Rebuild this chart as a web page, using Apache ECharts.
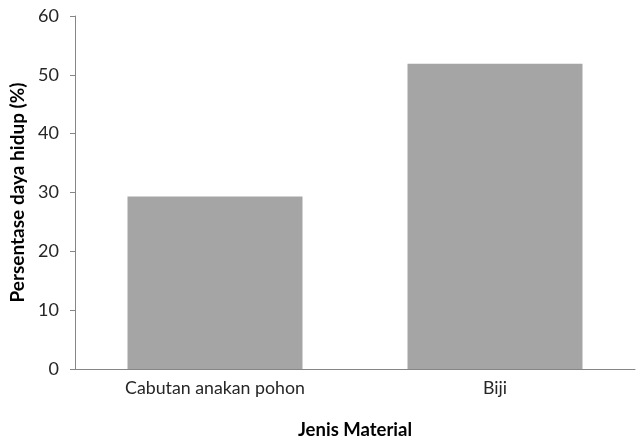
<!DOCTYPE html>
<html>
<head>
<meta charset="utf-8">
<script src="https://cdn.jsdelivr.net/npm/echarts@6/dist/echarts.min.js"></script>
<style>
  html, body { margin: 0; padding: 0; background: #fff; }
  #chart { width: 637px; height: 445px; }
</style>
</head>
<body>
<div id="chart"></div>
<script>
// Survival percentage by planting material
const categories = ['Cabutan anakan pohon', 'Biji'];
const survival = [29.3, 51.9];
const yTicks = { min: 0, max: 60, interval: 10 };

const font = 'Lato, "Open Sans", "Liberation Sans", sans-serif';
const axisGray = '#868686';
const labelColor = '#262626';

const chart = echarts.init(document.getElementById('chart'), null, { renderer: 'canvas' });
chart.setOption({
  animation: false,
  backgroundColor: '#ffffff',
  grid: { left: 75, width: 560, top: 16, height: 358, containLabel: false },
  xAxis: {
    type: 'category',
    data: categories,
    name: 'Jenis Material',
    nameLocation: 'middle',
    nameGap: 52,
    nameTextStyle: { fontFamily: font, fontSize: 18.5, fontWeight: 'bold', color: '#000' },
    axisLine: { lineStyle: { color: axisGray, width: 1 } },
    axisTick: { show: false },
    axisLabel: { fontFamily: font, fontSize: 17.75, color: labelColor, margin: 10 }
  },
  yAxis: {
    type: 'value',
    min: yTicks.min,
    max: yTicks.max,
    interval: yTicks.interval,
    name: 'Persentase daya hidup (%)',
    nameLocation: 'middle',
    nameGap: 45,
    nameTextStyle: { fontFamily: font, fontSize: 19, fontWeight: 'bold', color: '#000' },
    axisLine: { show: true, lineStyle: { color: axisGray, width: 1 } },
    axisTick: { show: true, length: 5, lineStyle: { color: axisGray } },
    axisLabel: { fontFamily: font, fontSize: 18, color: labelColor, margin: 16 },
    splitLine: { show: false }
  },
  series: [{
    type: 'bar',
    data: survival,
    barWidth: '62.5%',
    itemStyle: { color: '#a5a5a5' }
  }]
});
</script>
</body>
</html>
